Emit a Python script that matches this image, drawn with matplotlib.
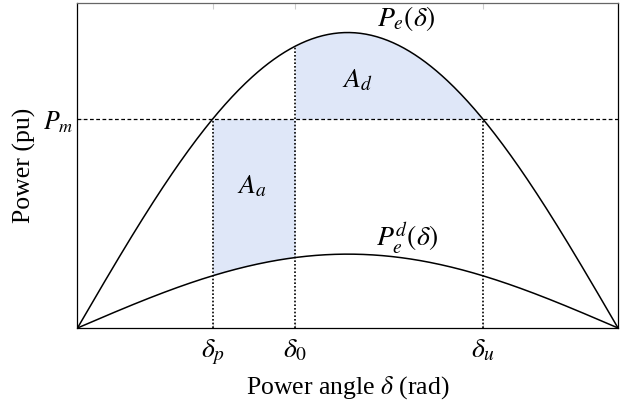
import numpy as np
import matplotlib.pyplot as plt

plt.rcParams['font.family'] = ['Liberation Serif', 'DejaVu Serif']
plt.rcParams['mathtext.fontset'] = 'stix'

# model values (pu, rad)
p_max = 1.0
p_max_fault = 0.25
delta_p = np.pi / 4
delta_0 = 1.265
delta_u = 3 * np.pi / 4
p_m = p_max * np.sin(delta_p)

tick_pos = [delta_p, delta_0, delta_u]
tick_labels = [r'$\delta_p$', r'$\delta_0$', r'$\delta_u$']

delta = np.linspace(0, np.pi, 400)
pe = p_max * np.sin(delta)
pe_d = p_max_fault * np.sin(delta)

fig = plt.figure(figsize=(6.34, 4.03), dpi=100)
ax = fig.add_axes([0.1222, 0.1861, 0.8526, 0.8065])

shade = '#dfe7f8'

# accelerating area (fault on)
da = np.linspace(delta_p, delta_0, 100)
ax.fill_between(da, p_max_fault * np.sin(da), p_m, color=shade, lw=0)

# decelerating area (post fault)
dd = np.linspace(delta_0, delta_u, 200)
ax.fill_between(dd, p_m, p_max * np.sin(dd), color=shade, lw=0)

ax.plot(delta, pe, color='black', lw=1.1)
ax.plot(delta, pe_d, color='black', lw=1.1)

ax.axhline(p_m, color='black', lw=0.9, ls=(0, (3, 2)))
dot = (0, (1, 1.2))
ax.plot([delta_p, delta_p], [0, p_m], color='black', lw=1.2, ls=dot)
ax.plot([delta_0, delta_0], [0, p_max * np.sin(delta_0)], color='black', lw=1.2, ls=dot)
ax.plot([delta_u, delta_u], [0, p_m], color='black', lw=1.2, ls=dot)

fs_math = 20
ax.text(1.91, 1.049, r'$P_e(\delta)$', fontsize=fs_math, ha='center', va='center')
ax.text(1.92, 0.305, r'$P_e^d(\delta)$', fontsize=fs_math, ha='center', va='center')
ax.text(1.625, 0.839, r'$A_d$', fontsize=fs_math, ha='center', va='center')
ax.text(1.014, 0.477, r'$A_a$', fontsize=fs_math, ha='center', va='center')

ax.set_xlim(0, np.pi)
ax.set_ylim(0, 1.1)
ax.set_xticks(tick_pos)
ax.set_xticklabels(tick_labels, fontsize=fs_math)
ax.set_yticks([p_m])
ax.set_yticklabels([r'$P_m$'], fontsize=18.5)
ax.tick_params(direction='in', length=4, color='#cccccc', top=True, right=False, pad=7)
ax.tick_params(axis='y', pad=3)

ax.set_xlabel(r'Power angle $\delta$ (rad)', fontsize=18.5, labelpad=5)
ax.set_ylabel('Power (pu)', fontsize=18.5, labelpad=5)

for s in ax.spines.values():
    s.set_linewidth(0.9)
ax.spines['top'].set_color('#666666')

fig.savefig('out.png', dpi=100)
